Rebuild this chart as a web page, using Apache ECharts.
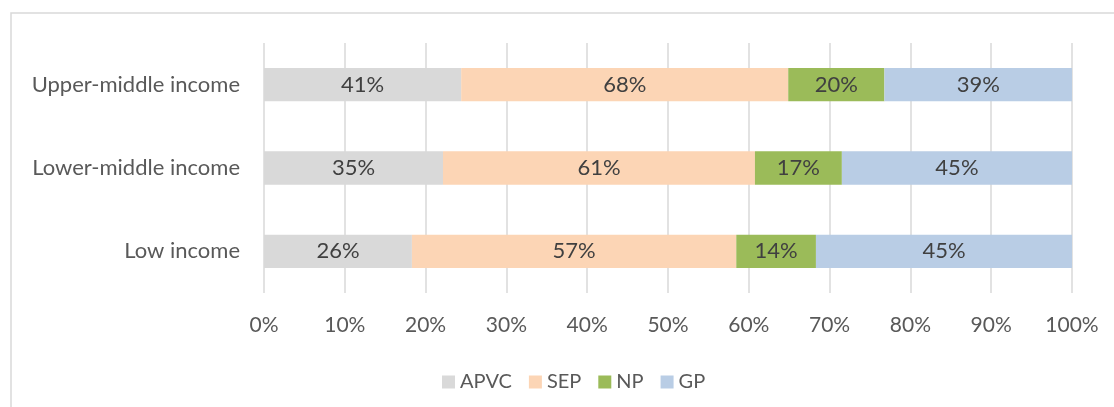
<!DOCTYPE html>
<html>
<head>
<meta charset="utf-8">
<script src="https://cdn.jsdelivr.net/npm/echarts@6/dist/echarts.min.js"></script>
<style>html,body{margin:0;padding:0;background:#fff}#c{width:1114px;height:407px}</style>
</head>
<body>
<div id="c"></div>
<script>
var categories = ['Low income', 'Lower-middle income', 'Upper-middle income'];
var seriesNames = ['APVC', 'SEP', 'NP', 'GP'];
var APVC = [26, 35, 41];
var SEP = [57, 61, 68];
var NP = [14, 17, 20];
var GP = [45, 45, 39];
var colors = ['#d9d9d9', '#fcd5b5', '#9bbb59', '#b9cde5'];
var tickLabels = ['0%','10%','20%','30%','40%','50%','60%','70%','80%','90%','100%'];

var raw = [APVC, SEP, NP, GP];
var totals = categories.map(function(_, i){ return raw.reduce(function(s, a){ return s + a[i]; }, 0); });
var FONT = 'Lato, "Open Sans", sans-serif';

var series = seriesNames.map(function(name, k){
  return {
    name: name,
    type: 'bar',
    stack: 'total',
    barCategoryGap: '60%',
    itemStyle: { color: colors[k] },
    label: {
      show: true, position: 'inside', color: '#404040', fontSize: 22, fontFamily: FONT,
      formatter: function(p){ return raw[k][p.dataIndex] + '%'; }
    },
    data: raw[k].map(function(v, i){ return v / totals[i] * 100; })
  };
});

var chart = echarts.init(document.getElementById('c'));
chart.setOption({
  animation: false,
  textStyle: { fontFamily: FONT },
  graphic: [{ type: 'rect', shape: { x: 11, y: 13, width: 1200, height: 500 }, style: { fill: 'none', stroke: '#d9d9d9', lineWidth: 1.5 }, silent: true }],
  grid: { left: 264, right: 42, top: 43, bottom: 114 },
  legend: {
    top: 367, left: 437, itemWidth: 13, itemHeight: 13, itemGap: 17,
    icon: 'rect',
    textStyle: { color: '#595959', fontSize: 20, fontFamily: FONT },
    data: seriesNames
  },
  xAxis: {
    type: 'value', min: 0, max: 100, interval: 10,
    axisLine: { show: false }, axisTick: { show: false },
    splitLine: { lineStyle: { color: '#d9d9d9', width: 1.5 } },
    axisLabel: { color: '#595959', fontSize: 21, margin: 22, fontFamily: FONT,
      formatter: function(v){ return tickLabels[Math.round(v/10)]; } }
  },
  yAxis: {
    type: 'category', data: categories,
    axisLine: { show: false }, axisTick: { show: false },
    axisLabel: { color: '#595959', fontSize: 22, margin: 24, fontFamily: FONT }
  },
  series: series
});
</script>
</body>
</html>
